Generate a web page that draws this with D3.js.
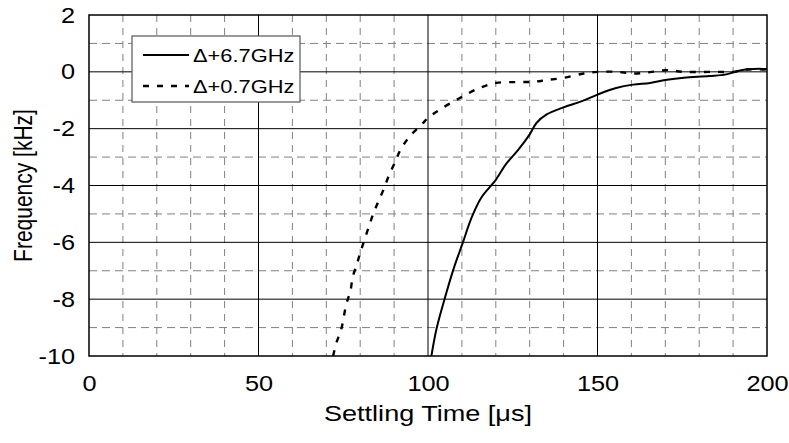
<!DOCTYPE html>
<html>
<head>
<meta charset="utf-8">
<script src="https://cdn.jsdelivr.net/npm/d3@7"></script>
<style>
  html, body { margin: 0; padding: 0; background: #fff; }
  svg text { font-family: "Liberation Sans", Arial, sans-serif; fill: #000; }
</style>
</head>
<body>
<svg id="chart" width="789" height="443"></svg>
<script>
// Settling time (µs) and frequency error (kHz) for each step size
const xTicks = [0, 50, 100, 150, 200];
const yTicks = [-10, -8, -6, -4, -2, 0, 2];

const seriesNames = ["\u0394+6.7GHz", "\u0394+0.7GHz"];

const timeWide = [101, 102.5, 105, 107.5, 110.3, 112.8, 115.7, 120, 123, 126.6, 130, 132, 135, 140, 145, 150,
  155.5, 160.5, 165.5, 170.5, 175.5, 183, 188, 192, 196, 200];
const freqWide = [-10, -9.05, -7.95, -6.95, -6.0, -5.15, -4.43, -3.8, -3.25, -2.75, -2.2, -1.8, -1.5, -1.25, -1.05, -0.8,
  -0.57, -0.45, -0.39, -0.28, -0.21, -0.15, -0.09, 0.05, 0.1, 0.1];

const timeNarrow = [72, 73, 74.4, 75.9, 77.1, 77.8, 79, 80, 81.3, 82.6, 83.9, 85.4, 86.9, 88.4, 90.2, 91.9, 94.6, 98.1,
  100, 103.5, 109.4, 115.3, 120.2, 126.2, 131.1, 135, 140, 145.9, 150, 155.7, 160.6, 165.5, 170.4, 175.4, 185.3, 190, 194, 200];
const freqNarrow = [-10, -9.53, -9.06, -8.18, -7.72, -7.22, -6.78, -6.37, -5.9, -5.43, -4.98, -4.55, -4.14, -3.67, -3.2,
  -2.74, -2.27, -1.86, -1.62, -1.33, -0.92, -0.56, -0.39, -0.36, -0.35, -0.29, -0.21, -0.06, 0, 0, -0.06, -0.01, 0.06, 0,
  0, 0, 0.08, 0.08];

const svg = d3.select("#chart");
const m = { left: 89, top: 15, right: 767, bottom: 356 };
const stretch = 1.15; // lettering is drawn slightly wide

const x = d3.scaleLinear().domain([0, 200]).range([m.left, m.right]);
const y = d3.scaleLinear().domain([-10, 2]).range([m.bottom, m.top]);

const grid = svg.append("g");

// minor dashed grid
d3.range(10, 200, 10).filter(v => v % 50 !== 0).forEach(v => {
  grid.append("line")
    .attr("x1", x(v)).attr("x2", x(v)).attr("y1", m.top).attr("y2", m.bottom)
    .attr("stroke", "#808080").attr("stroke-width", 1).attr("stroke-dasharray", "7,6");
});
d3.range(-9, 2, 2).forEach(v => {
  grid.append("line")
    .attr("x1", m.left).attr("x2", m.right).attr("y1", y(v)).attr("y2", y(v))
    .attr("stroke", "#808080").attr("stroke-width", 1).attr("stroke-dasharray", "8,5");
});
// major solid grid
[50, 100, 150].forEach(v => {
  grid.append("line")
    .attr("x1", x(v)).attr("x2", x(v)).attr("y1", m.top).attr("y2", m.bottom)
    .attr("stroke", "#000").attr("stroke-width", 1);
});
[-8, -6, -4, -2, 0].forEach(v => {
  grid.append("line")
    .attr("x1", m.left).attr("x2", m.right).attr("y1", y(v)).attr("y2", y(v))
    .attr("stroke", "#000").attr("stroke-width", 1);
});

// axes (labels only, no tick marks)
const fmt = d => String(d);
const xAxis = svg.append("g")
  .attr("transform", `translate(0,${m.bottom})`)
  .call(d3.axisBottom(x).tickValues(xTicks).tickSize(0).tickPadding(19).tickFormat(fmt));
const yAxis = svg.append("g")
  .attr("transform", `translate(${m.left},0)`)
  .call(d3.axisLeft(y).tickValues(yTicks).tickSize(0).tickPadding(14).tickFormat(fmt));
[xAxis, yAxis].forEach(a => {
  a.select(".domain").remove();
  a.selectAll("text").attr("font-size", 22).attr("font-family", "Liberation Sans, Arial, sans-serif").attr("fill", "#000");
});
xAxis.selectAll("text").attr("transform", `scale(${stretch},1)`);
yAxis.selectAll("text").attr("x", -14 / stretch).attr("transform", `scale(${stretch},1)`);

// plot frame
svg.append("rect")
  .attr("x", m.left).attr("y", m.top)
  .attr("width", m.right - m.left).attr("height", m.bottom - m.top)
  .attr("fill", "none").attr("stroke", "#000").attr("stroke-width", 1.5);

// curves
svg.append("clipPath").attr("id", "plotclip")
  .append("rect").attr("x", m.left).attr("y", m.top)
  .attr("width", m.right - m.left).attr("height", m.bottom - m.top);

const g = svg.append("g").attr("clip-path", "url(#plotclip)");

g.append("path")
  .datum(d3.zip(timeWide, freqWide))
  .attr("d", d3.line().x(d => x(d[0])).y(d => y(d[1])).curve(d3.curveCatmullRom))
  .attr("fill", "none").attr("stroke", "#000").attr("stroke-width", 2);

g.append("path")
  .datum(d3.zip(timeNarrow, freqNarrow))
  .attr("d", d3.line().x(d => x(d[0])).y(d => y(d[1])).curve(d3.curveCatmullRom))
  .attr("fill", "none").attr("stroke", "#000").attr("stroke-width", 2.4)
  .attr("stroke-dasharray", "6,8");

// legend
const lg = svg.append("g");
lg.append("rect")
  .attr("x", 132).attr("y", 36).attr("width", 168).attr("height", 66)
  .attr("fill", "#fff").attr("stroke", "#555").attr("stroke-width", 1.2);
const rows = [
  { name: seriesNames[0], dash: null, w: 2, yy: 55 },
  { name: seriesNames[1], dash: "6,8", w: 2.4, yy: 86 }
];
rows.forEach(r => {
  lg.append("line")
    .attr("x1", 143).attr("x2", 189).attr("y1", r.yy).attr("y2", r.yy)
    .attr("stroke", "#000").attr("stroke-width", r.w)
    .attr("stroke-dasharray", r.dash);
  lg.append("text")
    .attr("transform", `translate(193,${r.yy}) scale(${stretch},1)`)
    .attr("dy", "0.35em")
    .attr("font-size", 19).text(r.name);
});

// axis titles
svg.append("text")
  .attr("x", (m.left + m.right) / 2).attr("y", 421)
  .attr("text-anchor", "middle").attr("font-size", 22)
  .attr("textLength", 208).attr("lengthAdjust", "spacingAndGlyphs")
  .text("Settling Time [\u03bcs]");
svg.append("text")
  .attr("transform", `translate(32,${(m.top + m.bottom) / 2}) scale(1.2,1) rotate(-90)`)
  .attr("text-anchor", "middle").attr("font-size", 21)
  .text("Frequency [kHz]");
</script>
</body>
</html>
